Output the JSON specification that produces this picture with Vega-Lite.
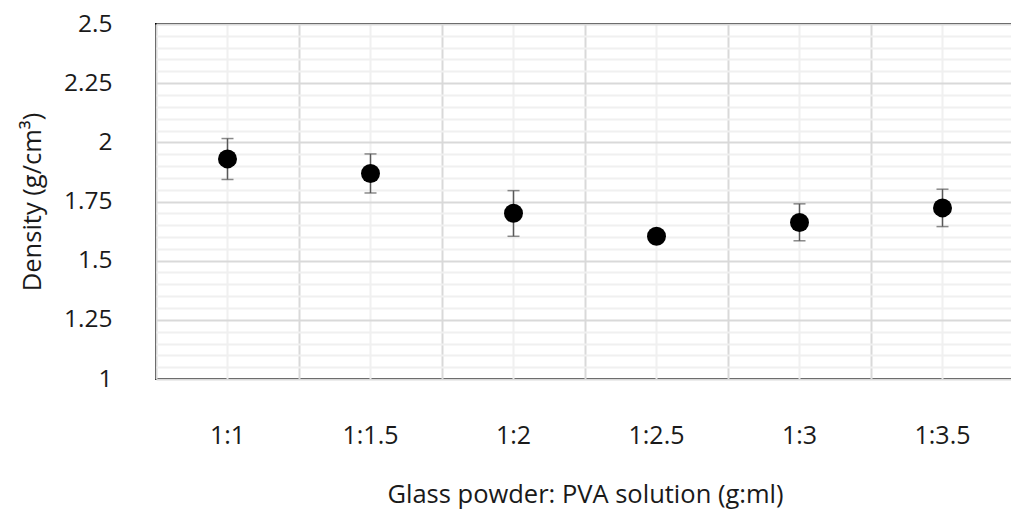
{
  "$schema": "https://vega.github.io/schema/vega-lite/v6.json",
  "width": 858,
  "height": 355,
  "autosize": "none",
  "padding": {"left": 156, "top": 24, "right": 0, "bottom": 135},
  "config": {
    "view": {"stroke": "black", "strokeWidth": 2},
    "font": "Open Sans"
  },
  "data": {
    "values": [
      {"ratio": "1:1", "density": 1.93, "lower": 1.843, "upper": 2.016},
      {"ratio": "1:1.5", "density": 1.868, "lower": 1.786, "upper": 1.951},
      {"ratio": "1:2", "density": 1.7, "lower": 1.603, "upper": 1.796},
      {"ratio": "1:2.5", "density": 1.603, "lower": 1.585, "upper": 1.62},
      {"ratio": "1:3", "density": 1.661, "lower": 1.584, "upper": 1.74},
      {"ratio": "1:3.5", "density": 1.723, "lower": 1.644, "upper": 1.802}
    ]
  },
  "layer": [
    {
      "mark": {"type": "rule", "color": "#595959", "strokeWidth": 1.5},
      "encoding": {
        "x": {
          "field": "ratio", "type": "nominal", "sort": null,
          "scale": {"type": "band", "paddingInner": 0, "paddingOuter": 0},
          "axis": {"orient": "top", "bandPosition": 0, "grid": true, "gridColor": "#d9d9d9", "gridWidth": 2, "labels": false, "ticks": false, "domain": false, "title": null}
        },
        "y": {
          "field": "lower", "type": "quantitative",
          "scale": {"domain": [1, 2.5], "nice": false, "zero": false},
          "axis": {"orient": "right", "values": [1.05,1.1,1.15,1.2,1.3,1.35,1.4,1.45,1.55,1.6,1.65,1.7,1.8,1.85,1.9,1.95,2.05,2.1,2.15,2.2,2.3,2.35,2.4,2.45], "grid": true, "gridColor": "#f0f0f0", "gridWidth": 2, "labels": false, "ticks": false, "domain": false, "title": null}
        },
        "y2": {"field": "upper"}
      }
    },
    {
      "mark": {"type": "tick", "color": "#595959", "size": 12, "thickness": 1.5},
      "encoding": {
        "x": {"field": "ratio", "type": "nominal", "sort": null, "axis": null},
        "y": {"field": "lower", "type": "quantitative", "axis": null}
      }
    },
    {
      "mark": {"type": "tick", "color": "#595959", "size": 12, "thickness": 1.5},
      "encoding": {
        "x": {"field": "ratio", "type": "nominal", "sort": null, "axis": null},
        "y": {"field": "upper", "type": "quantitative", "axis": null}
      }
    },
    {
      "mark": {"type": "circle", "color": "black", "opacity": 1, "size": 360},
      "encoding": {
        "x": {
          "field": "ratio", "type": "nominal", "sort": null,
          "axis": {"orient": "bottom", "grid": true, "gridColor": "#f0f0f0", "gridWidth": 2, "ticks": false, "domain": false, "labelAngle": 0, "labelFontSize": 25, "labelColor": "#1a1a1a", "labelPadding": 44, "labelFont": "Open Sans", "labelFontWeight": "normal", "title": "Glass powder: PVA solution (g:ml)", "titleFont": "Open Sans", "titleFontSize": 25.5, "titleFontWeight": "normal", "titleColor": "#1a1a1a", "titlePadding": 34}
        },
        "y": {
          "field": "density", "type": "quantitative",
          "axis": {"orient": "left", "values": [1, 1.25, 1.5, 1.75, 2, 2.25, 2.5], "format": ".3~g", "grid": true, "gridColor": "#d9d9d9", "gridWidth": 2, "ticks": false, "domain": false, "labelFont": "Open Sans", "labelFontSize": 24.5, "labelColor": "#1a1a1a", "labelPadding": 44, "title": "Density (g/cm³)", "titleFont": "Open Sans", "titleFontSize": 25.5, "titleFontWeight": "normal", "titleColor": "#1a1a1a", "titlePadding": 18}
        }
      }
    }
  ],
  "resolve": {"axis": {"x": "independent", "y": "independent"}}
}
